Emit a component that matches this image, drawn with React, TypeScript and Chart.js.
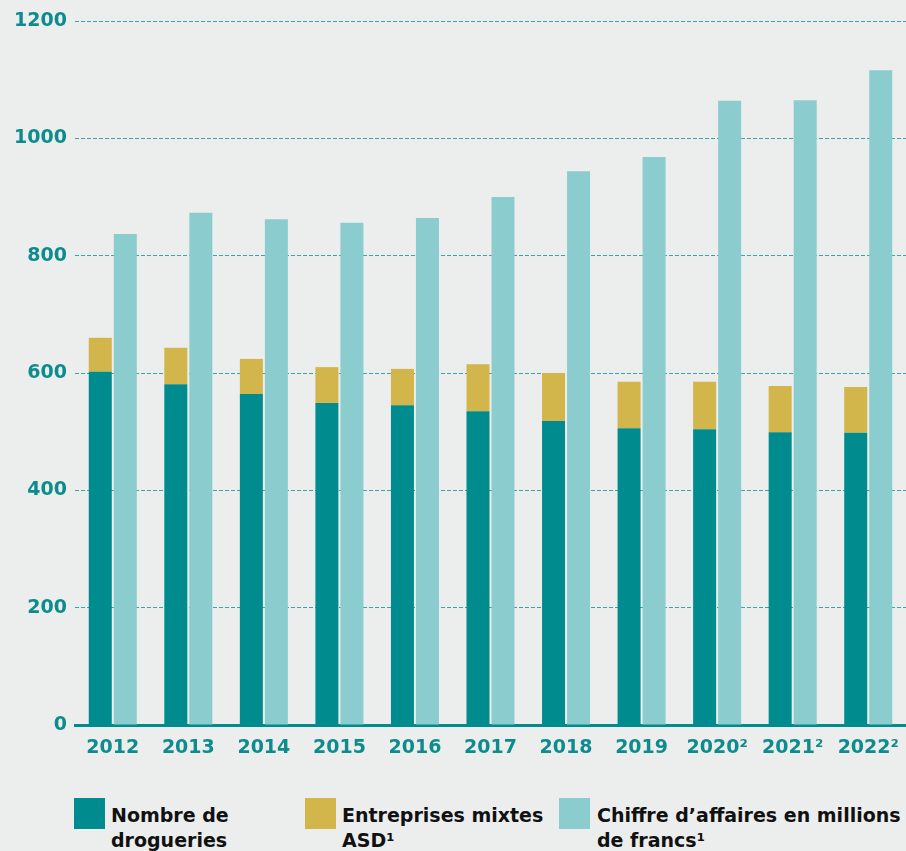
import React, { useEffect, useRef } from "react";
import { Chart, registerables } from "chart.js";

Chart.register(...registerables);

const categories = ["2012", "2013", "2014", "2015", "2016", "2017", "2018", "2019", "2020²", "2021²", "2022²"];
const drogueries = [602, 581, 564, 549, 545, 535, 518, 506, 504, 499, 498];
const entreprisesMixtes = [58, 62, 60, 61, 62, 80, 82, 79, 81, 79, 78];
const chiffreAffaires = [837, 873, 862, 856, 864, 900, 944, 968, 1064, 1065, 1116];
const yTicks = [0, 200, 400, 600, 800, 1000, 1200];

const TEAL = "#008C8E";
const GOLD = "#D2B54B";
const LIGHT = "#8BCDCE";
const BG = "#ECEEED";
const TICK = "#0E8C8D";
const GRID = "#3AA3A6";
const FONT = "'DejaVu Sans', Verdana, sans-serif";

const legendItems = [
  { color: TEAL, lines: ["Nombre de", "drogueries"], box: 74, text: 111 },
  { color: GOLD, lines: ["Entreprises mixtes", "ASD¹"], box: 305, text: 342 },
  { color: LIGHT, lines: ["Chiffre d’affaires en millions", "de francs¹"], box: 559, text: 597 },
];

export default function App() {
  const ref = useRef<HTMLCanvasElement | null>(null);

  useEffect(() => {
    if (!ref.current) return;
    const chart = new Chart(ref.current, {
      type: "bar",
      data: {
        labels: categories,
        datasets: [
          { label: "Nombre de drogueries", data: drogueries, backgroundColor: TEAL, stack: "a" },
          { label: "Entreprises mixtes ASD¹", data: entreprisesMixtes, backgroundColor: GOLD, stack: "a" },
          { label: "Chiffre d’affaires en millions de francs¹", data: chiffreAffaires, backgroundColor: LIGHT, stack: "b" },
        ],
      },
      options: {
        responsive: true,
        maintainAspectRatio: false,
        animation: false,
        datasets: { bar: { categoryPercentage: 0.6623, barPercentage: 0.92 } },
        layout: { padding: { top: 21, right: 0, left: 0, bottom: 0 } },
        plugins: { legend: { display: false }, tooltip: { enabled: false } },
        scales: {
          x: {
            stacked: true,
            grid: { display: false, drawTicks: false },
            border: { display: true, color: TEAL, width: 3 },
            ticks: { color: TICK, font: { family: FONT, size: 19, weight: "bold" }, padding: 12, maxRotation: 0, autoSkip: false },
            afterFit: (s: any) => { s.height = 50; s.paddingLeft = 0; s.paddingRight = 0; },
          },
          y: {
            stacked: true,
            min: 0,
            max: 1200,
            afterBuildTicks: (s: any) => { s.ticks = yTicks.map((v) => ({ value: v })); },
            grid: { color: GRID, lineWidth: 1, drawTicks: false },
            border: { display: false, dash: [4, 2] },
            ticks: { color: TICK, font: { family: FONT, size: 19, weight: "bold" }, padding: 8, callback: (v: any) => String(v) },
            afterFit: (s: any) => { s.width = 75; s.paddingTop = 0; s.paddingBottom = 0; },
          },
        },
      },
    });
    return () => chart.destroy();
  }, []);

  return (
    <div style={{ position: "absolute", left: 0, top: 0, width: 906, height: 851, background: BG, overflow: "hidden", fontFamily: FONT }}>
      <div style={{ position: "absolute", left: 0, top: 0, width: 906, height: 775 }}>
        <canvas ref={ref} />
      </div>
      {legendItems.map((it, i) => (
        <React.Fragment key={i}>
          <div style={{ position: "absolute", left: it.box, top: 798, width: 31, height: 31, background: it.color }} />
          <div style={{ position: "absolute", left: it.text, top: 803, fontSize: 19, lineHeight: "25px", fontWeight: "bold", color: "#111", whiteSpace: "nowrap" }}>
            {it.lines[0]}
            <br />
            {it.lines[1]}
          </div>
        </React.Fragment>
      ))}
    </div>
  );
}
